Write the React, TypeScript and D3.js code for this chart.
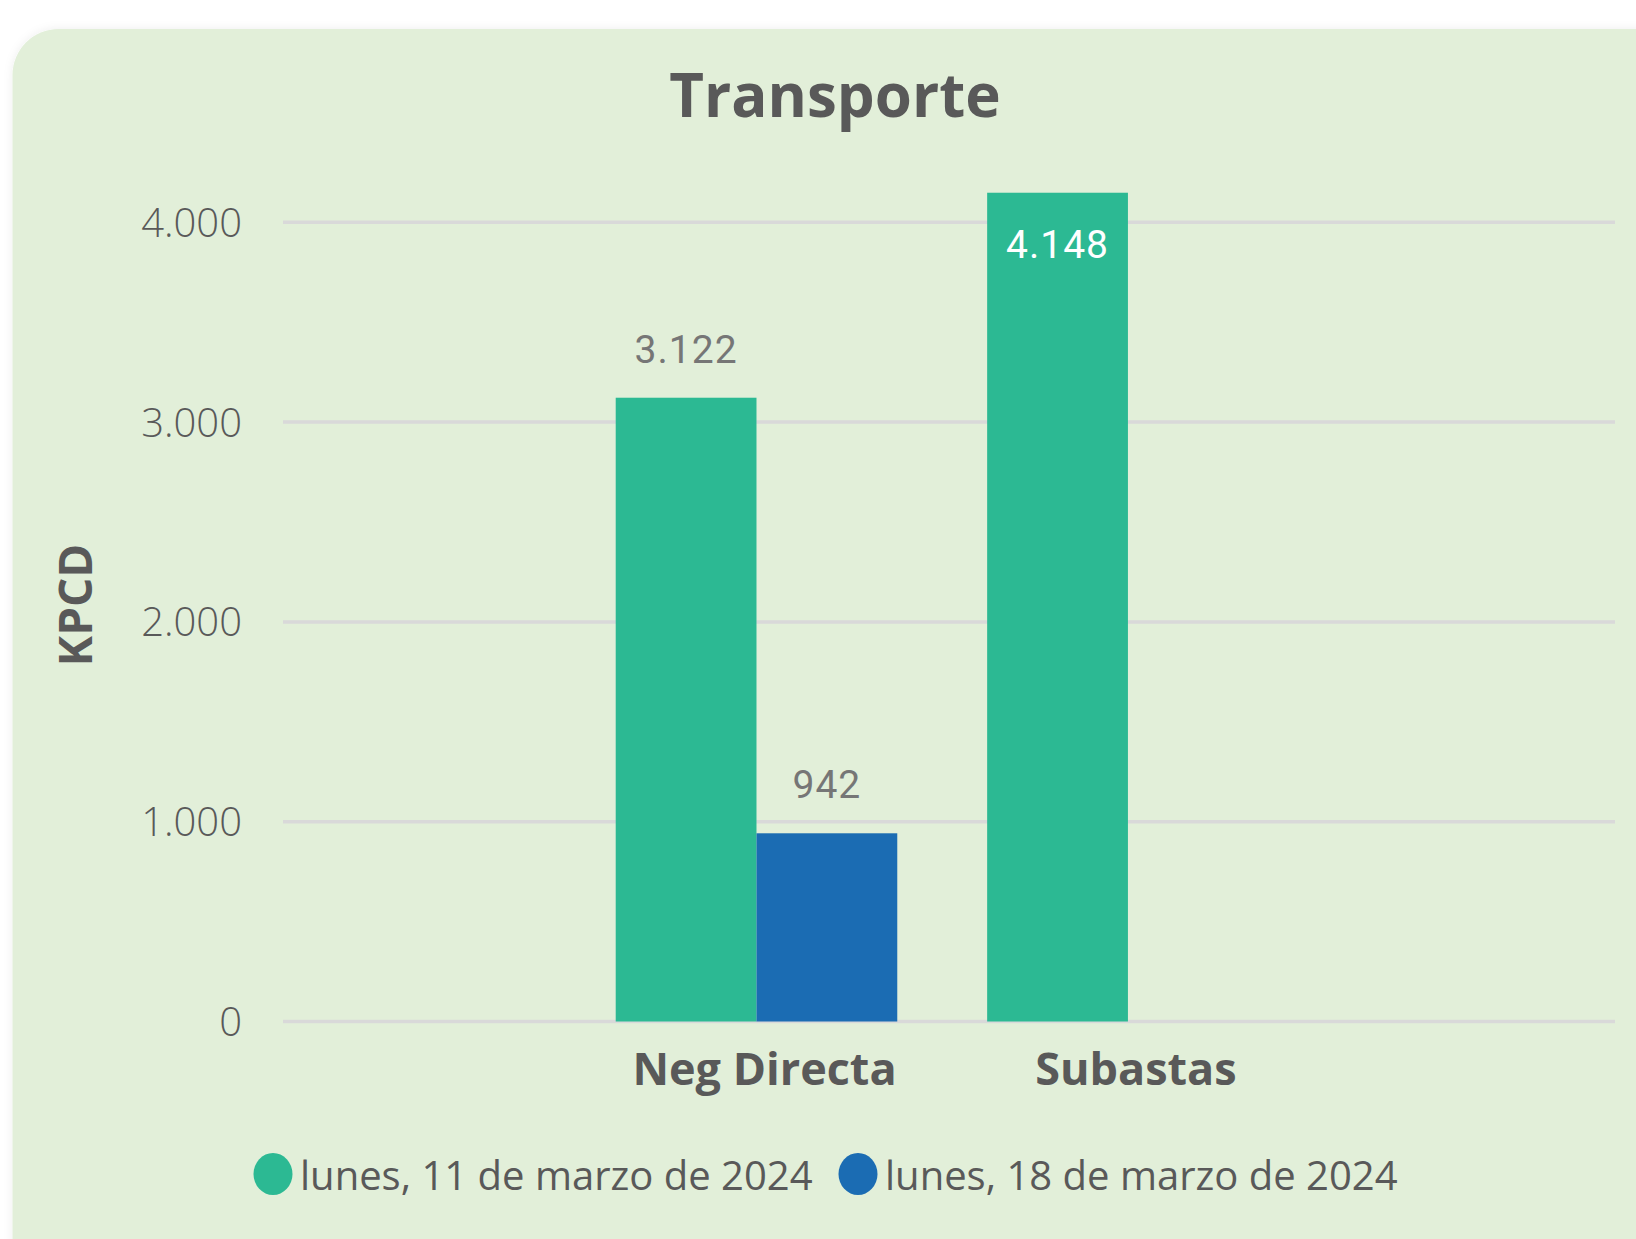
import React from 'react'
import * as d3 from 'd3'

// data
const categories = ['Neg Directa', 'Subastas']
const seriesNames = ['lunes, 11 de marzo de 2024', 'lunes, 18 de marzo de 2024']
const march11 = [3122, 4148]
const march18: (number | null)[] = [942, null]
const yTicks = [0, 1000, 2000, 3000, 4000]

const colors = ['#2CB993', '#1B6CB3']
const W = 1636
const H = 1239

const locale = d3.formatLocale({ decimal: ',', thousands: '.', grouping: [3], currency: ['', ''] })
const fmt = locale.format(',d')

export default function App() {
  const seriesValues = [march11, march18]

  const plotLeft = 283
  const plotRight = 1615
  const y = d3.scaleLinear().domain([0, 4000]).range([1021.5, 222.3])

  const x0 = d3.scaleBand<string>()
    .domain(categories)
    .range([plotLeft, plotRight])
    .paddingInner(0.242)
    .paddingOuter(0.914)
    .align(0.49)

  const x1 = d3.scaleBand<string>()
    .domain(seriesNames)
    .range([0, x0.bandwidth()])
    .padding(0)

  const txt = '#595959'

  return (
    <svg width={W} height={H} style={{ position: 'absolute', left: 0, top: 0, background: '#fff' }}>
      <defs>
        <filter id="shadow" x="-5%" y="-5%" width="110%" height="110%">
          <feDropShadow dx="0" dy="0" stdDeviation="5" floodColor="#000" floodOpacity="0.07" />
        </filter>
      </defs>
      {/* card */}
      <rect x={12.5} y={29} width={1700} height={1300} rx={46} fill="#E2EFD9" filter="url(#shadow)" />

      {/* title */}
      <text x={835} y={117} textAnchor="middle" fontFamily="Open Sans" fontWeight={700} fontSize={60} fill={txt}>
        Transporte
      </text>

      {/* gridlines + y ticks */}
      {yTicks.map(t => (
        <g key={t}>
          <line x1={plotLeft} x2={plotRight} y1={y(t)} y2={y(t)} stroke="#D9D9D9" strokeWidth={3.5} />
          <text x={242} y={y(t)} dy="0.36em" textAnchor="end" fontFamily="Open Sans" fontWeight={300} fontSize={40} fill={txt}>
            {fmt(t)}
          </text>
        </g>
      ))}

      {/* y axis title */}
      <text transform={`translate(92,605) rotate(-90)`} textAnchor="middle" fontFamily="Open Sans" fontWeight={700} fontSize={46} fill={txt}>
        KPCD
      </text>

      {/* bars */}
      {categories.map((c, ci) => (
        <g key={c} transform={`translate(${x0(c)},0)`}>
          {seriesNames.map((s, si) => {
            const v = seriesValues[si][ci]
            if (v == null) return null
            const top = y(v)
            const inside = top - 60 < y(4000)
            const cx = (x1(s) as number) + x1.bandwidth() / 2
            return (
              <g key={s}>
                <rect x={x1(s)} y={top} width={x1.bandwidth()} height={y(0) - top} fill={colors[si]} />
                <text x={cx} y={inside ? top + 65 : top - 35} textAnchor="middle" fontFamily="Roboto" fontSize={39}
                  letterSpacing={1} fill={inside ? '#fff' : '#767676'}>
                  {fmt(v)}
                </text>
              </g>
            )
          })}
          <text x={x0.bandwidth() / 2 + 8} y={1085} textAnchor="middle" fontFamily="Open Sans" fontWeight={700} fontSize={45} fill={txt}>
            {c}
          </text>
        </g>
      ))}

      {/* legend */}
      {seriesNames.map((s, i) => {
        const lx = [273, 858][i]
        return (
          <g key={s}>
            <ellipse cx={lx} cy={1174} rx={19.5} ry={21} fill={colors[i]} />
            <text x={lx + 27} y={1190} fontFamily="Open Sans" fontSize={40} fill={txt}>
              {s}
            </text>
          </g>
        )
      })}
    </svg>
  )
}
